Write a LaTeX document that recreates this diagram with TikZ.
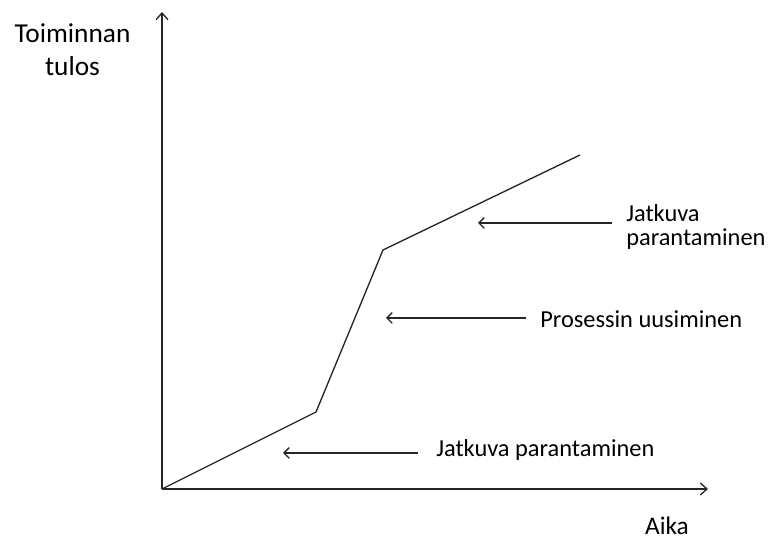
\documentclass[tikz,border=0pt]{standalone}
\usepackage{fontspec}
\setmainfont{Carlito}
\usetikzlibrary{arrows.meta}

\begin{document}
\begin{tikzpicture}[x=0.75pt,y=-0.75pt,
    axis/.style={draw=black!85,line width=1pt,-{Straight Barb[length=5pt,width=9pt]}},
    pointer/.style={draw=black!85,line width=1pt,-{Straight Barb[length=4pt,width=8pt]}},
    curve/.style={draw=black!85,line width=1pt,line join=miter},
    lbl/.style={font=\fontsize{18.3}{18.4}\selectfont,inner sep=0pt}]
    \useasboundingbox (0,0) rectangle (769,541);

    % axes
    \coordinate (origo) at (162,489);
    \coordinate (ytop)  at (162,12);
    \coordinate (xend)  at (708,489);
    \draw [axis] (origo) -- (ytop);
    \draw [axis] (origo) -- (xend);

    \node [lbl,align=center,anchor=north,font=\fontsize{20.5}{24.8}\selectfont] (ylab) at (72.5,23) {Toiminnan\\tulos};
    \node [lbl,anchor=base,font=\fontsize{19}{22}\selectfont] (xlab) at (667,535) {Aika};

    % the curve
    \coordinate (knee1) at (316,412);
    \coordinate (knee2) at (383,250);
    \coordinate (loppu) at (580,155);
    \draw [curve] (origo) -- (knee1) -- (knee2) -- (loppu);

    % labels with pointers
    \node [lbl,anchor=base west] (jatkuva1) at (436,457) {Jatkuva parantaminen};
    \node [lbl,anchor=base west] (uusiminen) at (540,328) {Prosessin uusiminen};
    \node [lbl,anchor=north west,align=left] (jatkuva2) at (626,204) {Jatkuva\\parantaminen};

    \coordinate (tail1) at (418,453);  \coordinate (tip1) at (283,453);
    \coordinate (tail2) at (526,318);  \coordinate (tip2) at (386,318);
    \coordinate (tail3) at (612,223);  \coordinate (tip3) at (478,223);
    \draw [pointer] (tail1) -- (tip1);
    \draw [pointer] (tail2) -- (tip2);
    \draw [pointer] (tail3) -- (tip3);
\end{tikzpicture}
\end{document}
